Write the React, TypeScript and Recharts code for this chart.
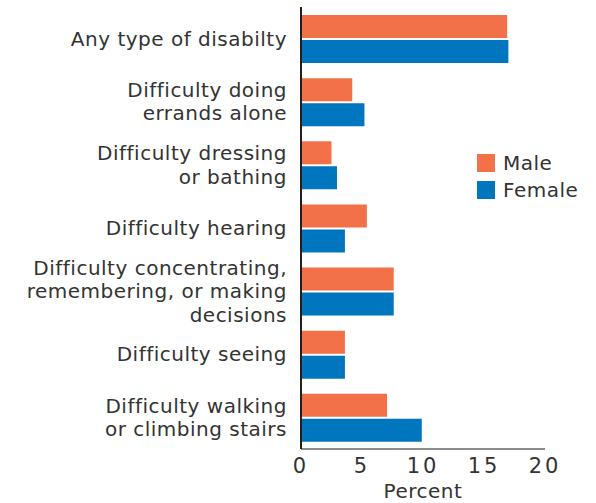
import { Bar, BarChart, XAxis, YAxis } from 'recharts'

const categories = [
	'Any type of disabilty',
	'Difficulty doing\nerrands alone',
	'Difficulty dressing\nor bathing',
	'Difficulty hearing',
	'Difficulty concentrating,\nremembering, or making\ndecisions',
	'Difficulty seeing',
	'Difficulty walking\nor climbing stairs',
]
const maleValues = [16.9, 4.2, 2.5, 5.4, 7.6, 3.6, 7.05]
const femaleValues = [17.0, 5.2, 2.95, 3.6, 7.6, 3.6, 9.9]
const xTicks = [0, 5, 10, 15, 20]

const data = categories.map((name, i) => ({
	name,
	male: maleValues[i],
	female: femaleValues[i],
}))

const FONT = '"DejaVu Sans", sans-serif'
const TEXT = '#333333'
const MALE = '#F37148'
const FEMALE = '#0076BF'

const CategoryTick = (props: any) => {
	const { x, y, payload } = props
	const lines: string[] = String(payload.value).split('\n')
	const lineH = 23.5
	const start = -((lines.length - 1) * lineH) / 2
	return (
		<text
			x={x}
			y={y}
			textAnchor='end'
			fill={TEXT}
			fontSize={20}
			letterSpacing={0.5}
			fontFamily={FONT}
			dominantBaseline='central'
		>
			{lines.map((l, i) => (
				<tspan key={i} x={x} dy={i === 0 ? start : lineH}>
					{l}
				</tspan>
			))}
		</text>
	)
}

const legendItems = [
	{ label: 'Male', color: MALE },
	{ label: 'Female', color: FEMALE },
]

const App = () => {
	return (
		<div style={{ position: 'absolute', left: 0, top: 0, width: 596, height: 503, background: '#fff' }}>
			<BarChart
				width={596}
				height={503}
				data={data}
				layout='vertical'
				margin={{ top: 7, right: 51, bottom: 0, left: 0 }}
				barSize={23}
				barGap={2}
			>
				<XAxis
					type='number'
					domain={[0, 20]}
					ticks={xTicks}
					tickLine={false}
					axisLine={{ stroke: '#666666', strokeWidth: 1.5 }}
					tick={{ fill: TEXT, fontSize: 21, fontFamily: FONT, letterSpacing: 3 }}
					tickMargin={3}
					height={54}
					label={{
						value: 'Percent',
						position: 'insideBottom',
						offset: 5,
						fill: TEXT,
						fontSize: 20,
						letterSpacing: 0.5,
						fontFamily: FONT,
					}}
				/>
				<YAxis
					type='category'
					dataKey='name'
					width={301}
					tickLine={false}
					axisLine={{ stroke: '#231f20', strokeWidth: 2 }}
					tick={<CategoryTick />}
					tickMargin={8}
					interval={0}
				/>
				<Bar dataKey='male' fill={MALE} isAnimationActive={false} />
				<Bar dataKey='female' fill={FEMALE} isAnimationActive={false} />
			</BarChart>
			<div
				style={{
					position: 'absolute',
					left: 477,
					top: 149,
					fontFamily: FONT,
					fontSize: 20,
					letterSpacing: 0.5,
					color: TEXT,
				}}
			>
				{legendItems.map((item) => (
					<div key={item.label} style={{ display: 'flex', alignItems: 'center', height: 27 }}>
						<span style={{ width: 18, height: 18, background: item.color, marginRight: 8 }} />
						<span>{item.label}</span>
					</div>
				))}
			</div>
		</div>
	)
}

export default App
